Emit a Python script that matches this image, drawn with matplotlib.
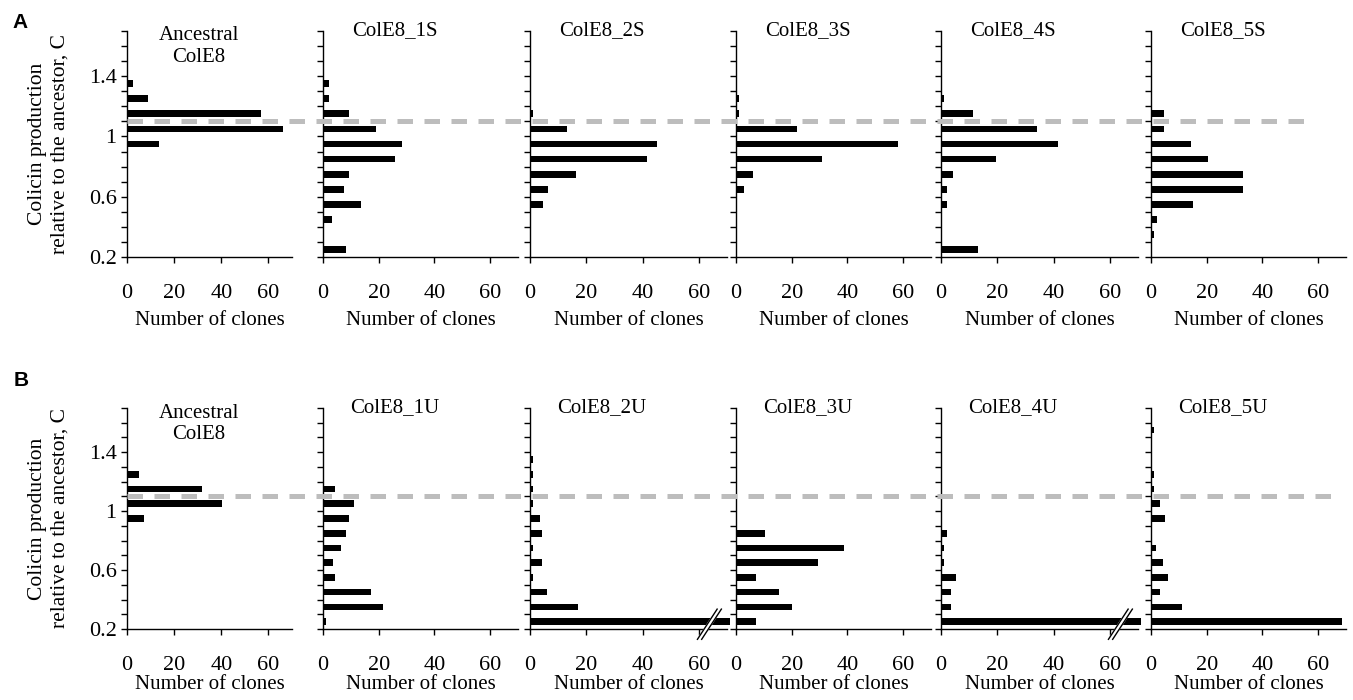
import numpy as np
import matplotlib
matplotlib.use('Agg')
import matplotlib.pyplot as plt
from matplotlib.ticker import MultipleLocator
from matplotlib.lines import Line2D

plt.rcParams['font.family'] = 'Liberation Serif'

# centres of the colicin production bins (0.1 wide)
bin_centres = [0.25, 0.35, 0.45, 0.55, 0.65, 0.75, 0.85, 0.95,
               1.05, 1.15, 1.25, 1.35, 1.45, 1.55, 1.65]

titles_a = ['Ancestral\nColE8', 'ColE8_1S', 'ColE8_2S', 'ColE8_3S', 'ColE8_4S', 'ColE8_5S']
titles_b = ['Ancestral\nColE8', 'ColE8_1U', 'ColE8_2U', 'ColE8_3U', 'ColE8_4U', 'ColE8_5U']

# number of clones per bin, row A (structured)
anc_s = [0, 0, 0, 0, 0, 0, 0, 13.4, 66, 57, 9, 2.4, 0, 0, 0]
s1 = [8.4, 0, 3.2, 13.5, 7.5, 9.3, 26, 28.5, 19.1, 9.3, 2.3, 2.3, 0, 0, 0]
s2 = [0, 0, 0, 4.5, 6.3, 16.3, 41.5, 45, 13.2, 1.2, 0, 0, 0, 0, 0]
s3 = [0, 0, 0, 0, 3, 6.2, 31, 58, 22, 1, 1, 0, 0, 0, 0]
s4 = [13.1, 0, 0, 2, 2, 4.4, 19.5, 41.6, 34.1, 11.2, 1.2, 0, 0, 0, 0]
s5 = [0, 1.1, 2, 15.2, 33, 33, 20.3, 14.3, 4.5, 4.5, 0, 0, 0, 0, 0]

# row B (unstructured); 2U and 4U first bins are off-scale (axis broken)
anc_u = [0, 0, 0, 0, 0, 0, 0, 7.1, 40.1, 32, 5, 0, 0, 0, 0]
u1 = [1.2, 21.5, 17.4, 4.4, 3.5, 6.3, 8.1, 9.5, 11.3, 4.4, 0, 0, 0, 0, 0]
u2 = [71, 17.2, 6.2, 1, 4.4, 1, 4.4, 3.4, 1, 1, 1, 1, 0, 0, 0]
u3 = [7.2, 20.1, 15.6, 7.2, 29.3, 38.6, 10.5, 0, 0, 0, 0, 0, 0, 0, 0]
u4 = [71, 3.4, 3.4, 5.2, 1, 1, 2, 0, 0, 0, 0, 0, 0, 0, 0]
u5 = [68.5, 11.2, 3.3, 6.1, 4.2, 1.9, 0, 5.1, 3.2, 1, 1, 0, 0, 1, 0]

broken_b = [False, False, True, False, True, False]
threshold = 1.1

xticks = [0, 20, 40, 60]
yticks = [0.2, 0.6, 1.0, 1.4]
ytick_labels = ['0.2', '0.6', '1', '1.4']

W, H = 1353, 700
fig = plt.figure(figsize=(W / 100, H / 100), dpi=100)

lefts = [127, 323, 530, 736, 941, 1151]
widths = [165, 195, 197, 195, 197, 195]


def draw_row(top_px, bottom_px, titles, counts, broken, line_end, xlab_y):
    axes = []
    for i in range(6):
        ax = fig.add_axes([lefts[i] / W, 1 - bottom_px / H, widths[i] / W, (bottom_px - top_px) / H])
        ax.barh(bin_centres, counts[i], height=0.045, color='black', clip_on=False)
        ax.set_xlim(0, 70)
        ax.set_ylim(0.2, 1.7)
        ax.set_xticks(xticks)
        ax.set_yticks(yticks)
        ax.yaxis.set_minor_locator(MultipleLocator(0.1))
        if i == 0:
            ax.set_yticklabels(ytick_labels)
            ax.set_ylabel('Colicin production\nrelative to the ancestor, C', fontsize=15.5)
            ax.yaxis.set_label_coords(-0.35, 0.5)
        else:
            ax.set_yticklabels([])
        for sp in ['top', 'right']:
            ax.spines[sp].set_visible(False)
        for sp in ['left', 'bottom']:
            ax.spines[sp].set_linewidth(1)
        ax.tick_params(axis='both', which='both', direction='out', length=4.5, width=1, labelsize=16)
        ax.tick_params(axis='x', pad=15)
        ax.tick_params(axis='y', pad=3)
        ax.set_xlabel('Number of clones', fontsize=15)
        ax.xaxis.set_label_coords(0.5, xlab_y)
        tx = 72 / widths[i]
        if '\n' in titles[i]:
            ax.text(tx, 1.02, titles[i], transform=ax.transAxes, ha='center', va='top',
                    fontsize=15, linespacing=1.2)
        else:
            ax.text(tx, 1.0, titles[i], transform=ax.transAxes, ha='center', va='center', fontsize=15)
        if broken[i]:
            bx = [59.5, 66.5, 68.0, 61.0]
            by = [0.13, 0.335, 0.335, 0.13]
            ax.fill(bx, by, color='white', zorder=5, clip_on=False)
            ax.plot(bx[:2], by[:2], color='black', lw=1, zorder=6, clip_on=False)
            ax.plot(bx[3:1:-1], by[3:1:-1], color='black', lw=1, zorder=6, clip_on=False)
        axes.append(ax)

    # grey dashed reference line running across all panels of the row
    inv = fig.transFigure.inverted()
    p0 = inv.transform(axes[0].transData.transform((0, threshold)))
    p1 = inv.transform(axes[-1].transData.transform((line_end, threshold)))
    fig.add_artist(Line2D([p0[0], p1[0]], [p0[1], p1[1]], transform=fig.transFigure,
                          color='#bdbdbd', lw=3.6, dashes=(3.1, 2.3),
                          solid_capstyle='butt', dash_capstyle='butt', zorder=10))
    return axes


draw_row(31, 257, titles_a, [anc_s, s1, s2, s3, s4, s5], [False] * 6, 58, -0.24)
draw_row(408, 629, titles_b, [anc_u, u1, u2, u3, u4, u5], broken_b, 66, -0.21)

fig.text(12 / W, 1 - 13 / H, 'A', fontsize=15, fontweight='bold', family='Liberation Sans', va='top')
fig.text(14 / W, 1 - 371 / H, 'B', fontsize=15, fontweight='bold', family='Liberation Sans', va='top')

fig.savefig('out.png', dpi=100)
